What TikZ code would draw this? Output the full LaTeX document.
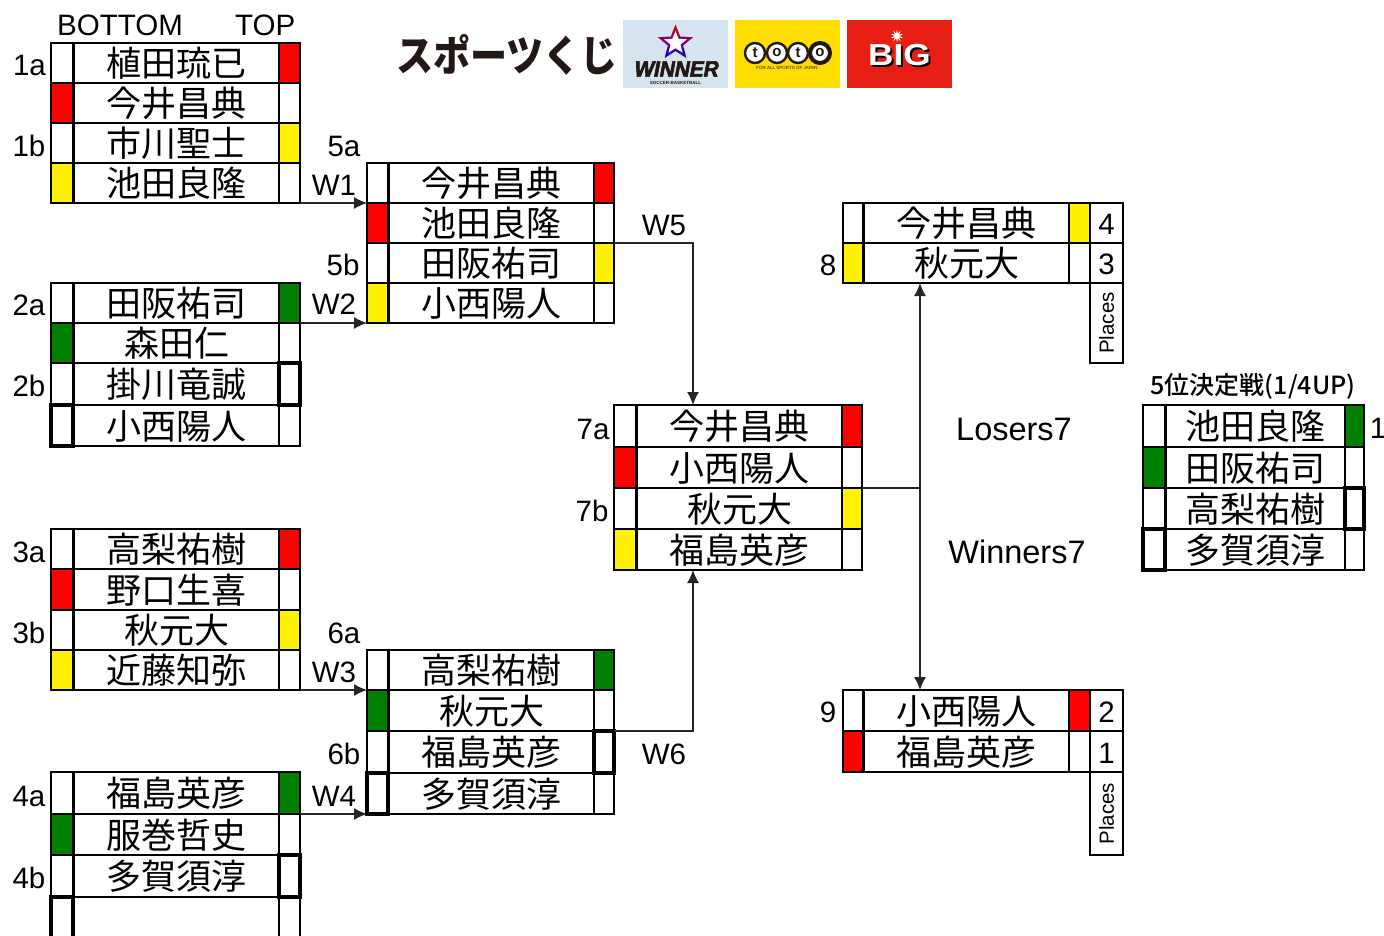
\documentclass[tikz,border=0pt]{standalone}
\usepackage{fontspec}
\setmainfont{Liberation Sans}
\newfontfamily\cjk{Noto Sans CJK JP}
\newfontfamily\cjkmid{Noto Sans CJK JP Medium}
\newfontfamily\cjkheavy{Noto Sans CJK JP Black}
\newfontfamily\wfont[FakeBold=3,FakeSlant=0.2]{Liberation Sans Bold}
\usetikzlibrary{arrows.meta,shapes.geometric}
\definecolor{gr}{HTML}{007F00}
\definecolor{logoblue}{HTML}{D5E5F0}
\definecolor{logoyel}{HTML}{FFDD00}
\definecolor{logored}{HTML}{E61E14}
\definecolor{logoink}{HTML}{231815}
\tikzset{
  cell/.style={draw=black,line width=1.6pt,inner sep=0pt,outer sep=0pt,rectangle},
  namecell/.style={cell,font=\cjk\fontsize{35}{35}\selectfont},
  lab/.style={inner sep=0pt,font=\fontsize{29.5}{30}\selectfont},
  placenum/.style={cell,lab,minimum width=33pt,text height=23pt,text depth=0pt},
  wide/.style={inner sep=0pt,font=\fontsize{32.5}{32.5}\selectfont},
  place/.style={inner sep=0pt,rotate=90,font=\fontsize{20.5}{20.5}\selectfont},
  conn/.style={draw=black!85,line width=1.2pt},
  arr/.style={conn,-{Latex[length=13pt,width=12pt]}},
  hl/.style={draw=black,line width=4.2pt},
}
% column positions
\newcommand\setx[4]{\def\xa{#1}\def\xb{#2}\def\xc{#3}\def\xd{#4}}
% id, y top, y bottom, name, left fill, right fill
\newcommand\trow[6]{%
  \pgfmathsetmacro\hh{#3-#2}\pgfmathsetmacro\ym{(#2+#3)/2}%
  \pgfmathsetmacro\wl{\xb-\xa}\pgfmathsetmacro\wn{\xc-\xb}\pgfmathsetmacro\wr{\xd-\xc}%
  \pgfmathsetmacro\cl{(\xa+\xb)/2}\pgfmathsetmacro\cn{(\xb+\xc)/2}\pgfmathsetmacro\cr{(\xc+\xd)/2}%
  \node[cell,fill=#5,minimum width=\wl pt,minimum height=\hh pt] (#1L) at (\cl,\ym) {};
  \node[namecell,minimum width=\wn pt,minimum height=\hh pt,text height=29pt,text depth=2pt] (#1N) at (\cn+0.7,\ym) {#4};
  \node[cell,fill=#6,minimum width=\wr pt,minimum height=\hh pt] (#1R) at (\cr,\ym) {};
}
\newcommand\hlcell[1]{\draw[hl] (#1.south west) rectangle (#1.north east);}
\begin{document}
\begin{tikzpicture}[x=1pt,y=-1pt]
\useasboundingbox (0,0) rectangle (1384,936);
\clip (0,0) rectangle (1384,936);

% header
\node[lab,anchor=west] (hb) at (57,25.5) {BOTTOM};
\node[lab,anchor=west] (ht) at (235,25.5) {TOP};

% round 1
\setx{51}{73}{279}{300}
\trow{a1}{43}{83}{植田琉已}{white}{red}
\trow{a2}{83}{123}{今井昌典}{red}{white}
\trow{a3}{123}{163}{市川聖士}{white}{yellow}
\trow{a4}{163}{203}{池田良隆}{yellow}{white}
\trow{b1}{283}{323}{田阪祐司}{white}{gr}
\trow{b2}{323}{363}{森田仁}{gr}{white}
\trow{b3}{363}{405}{掛川竜誠}{white}{white}
\trow{b4}{405}{446}{小西陽人}{white}{white}
\hlcell{b3R}\hlcell{b4L}
\trow{c1}{529}{569}{高梨祐樹}{white}{red}
\trow{c2}{569}{610}{野口生喜}{red}{white}
\trow{c3}{610}{650}{秋元大}{white}{yellow}
\trow{c4}{650}{690}{近藤知弥}{yellow}{white}
\trow{d1}{772}{814}{福島英彦}{white}{gr}
\trow{d2}{814}{855}{服巻哲史}{gr}{white}
\trow{d3}{855}{897}{多賀須淳}{white}{white}
\trow{d4}{897}{960}{}{white}{white}
\hlcell{d3R}\hlcell{d4L}

% round 2
\setx{367}{388}{594}{614}
\trow{e1}{163}{203}{今井昌典}{white}{red}
\trow{e2}{203}{243}{池田良隆}{red}{white}
\trow{e3}{243}{283}{田阪祐司}{white}{yellow}
\trow{e4}{283}{323}{小西陽人}{yellow}{white}
\trow{f1}{650}{690}{高梨祐樹}{white}{gr}
\trow{f2}{690}{731}{秋元大}{gr}{white}
\trow{f3}{731}{773}{福島英彦}{white}{white}
\trow{f4}{773}{814}{多賀須淳}{white}{white}
\hlcell{f3R}\hlcell{f4L}

% semi-final
\setx{614}{636}{842}{862}
\trow{g1}{405}{447}{今井昌典}{white}{red}
\trow{g2}{447}{488}{小西陽人}{red}{white}
\trow{g3}{488}{529}{秋元大}{white}{yellow}
\trow{g4}{529}{570}{福島英彦}{yellow}{white}

% finals
\setx{843}{863}{1069}{1090}
\trow{h1}{203}{243}{今井昌典}{white}{yellow}
\trow{h2}{243}{283}{秋元大}{yellow}{white}
\trow{i1}{690}{731}{小西陽人}{white}{red}
\trow{i2}{731}{772}{福島英彦}{red}{white}
\node[placenum,minimum height=40pt] (h1P) at (1106.5,223) {4};
\node[placenum,minimum height=40pt] (h2P) at (1106.5,263) {3};
\node[cell,minimum width=33pt,minimum height=80pt] (h3P) at (1106.5,323) {};
\node[place] (h3T) at (h3P.center) {Places};
\node[placenum,minimum height=41pt] (i1P) at (1106.5,710.5) {2};
\node[placenum,minimum height=41pt] (i2P) at (1106.5,751.5) {1};
\node[cell,minimum width=33pt,minimum height=83pt] (i3P) at (1106.5,813.5) {};
\node[place] (i3T) at (i3P.center) {Places};

% fifth place
\setx{1143}{1165}{1345}{1364}
\trow{j1}{405}{447}{池田良隆}{white}{gr}
\trow{j2}{447}{488}{田阪祐司}{gr}{white}
\trow{j3}{488}{529}{高梨祐樹}{white}{white}
\trow{j4}{529}{570}{多賀須淳}{white}{white}
\hlcell{j3R}\hlcell{j4L}
\node[inner sep=0pt,anchor=center,font=\cjkmid\fontsize{25}{25}\selectfont] (jt) at (1253,386) {5位決定戦(1/4UP)};
\node[lab] (j1n) at (1378,428) {1};

% side labels
\foreach \t/\px/\py in {1a/29.5/65,1b/29/146,5a/344/146,5b/343/265,2a/29/305,2b/29/386,7a/593/429,7b/592/511,3a/29/552,3b/29/633,6a/344/633,6b/344/754,4a/29/796,4b/29/878,8/828/265,9/828/712,W1/334/185,W2/334/304,W3/334/672,W4/334/796,W5/664/225,W6/664/754}
  \node[lab] (l\t) at (\px,\py) {\t};
\node[wide] (los) at (1014,429) {Losers7};
\node[wide] (win) at (1017,552) {Winners7};

% connectors
\draw[arr] (a4R.south east) -- (e2L.north west);
\draw[arr] (b2R.north east) -- (e4L.south west);
\draw[arr] (c4R.south east) -- (f2L.north west);
\draw[arr] (d2R.north east) -- (f4L.south west);
\coordinate (mtop) at (693,405);
\coordinate (mbot) at (693,570);
\draw[arr] (e3R.north east) -| (g1N.north -| mtop);
\draw[arr] (f3R.north east) -| (g4N.south -| mbot);
\coordinate (sp) at (920,488);
\draw[conn] (g3R.north east) -- (sp);
\draw[arr] (sp) -- (sp |- h2N.south);
\draw[arr] (sp) -- (sp |- i1N.north);

% logos
\node[inner sep=0pt,text=logoink,font=\cjkheavy\fontsize{36}{36}\selectfont] (lsp) at (507,55) {\scalebox{1.03}[1.18]{スポーツくじ}};

\node[fill=logoblue,minimum width=105pt,minimum height=68pt,inner sep=0pt] (lw) at (675.5,54) {};
\node[star,star points=5,star point ratio=2.3,minimum size=37pt,inner sep=0pt,top color=red!85!black,bottom color=blue!80!black,middle color=violet] (lws) at (675.5,43) {};
\node[star,star points=5,star point ratio=2.3,minimum size=24pt,inner sep=0pt,fill=white] (lwi) at (675.5,43) {};
\node[inner sep=0pt,text=logoink,font=\wfont\fontsize{26}{26}\selectfont] (lwt) at (675.5,69) {\scalebox{0.8}[0.85]{WINNER}};
\node[inner sep=0pt,text=logoink,font=\bfseries\fontsize{4.5}{4.5}\selectfont] (lwu) at (675.5,83) {SOCCER-BASKETBALL};

\node[fill=logoyel,minimum width=105pt,minimum height=68pt,inner sep=0pt] (ly) at (787.5,54) {};
\foreach \n/\c/\l/\w in {1/755/t/2.4,2/777/o/2.4,3/798/t/2.4,4/820/o/4}
  \node[circle,draw=logoink,line width=\w pt,fill=white,minimum size=20pt,inner sep=0pt,text=logoink,font=\bfseries\fontsize{15}{15}\selectfont] (ty\n) at (\c,53) {\l};
\node[inner sep=0pt,text=logoink,font=\fontsize{4.5}{5}\selectfont] (lyt) at (787,68) {FOR ALL SPORTS OF JAPAN};

\node[fill=logored,minimum width=105pt,minimum height=68pt,inner sep=0pt] (lb) at (899.5,54) {};
\node[star,star points=10,star point ratio=2.5,minimum size=13pt,inner sep=0pt,fill=white] (lbs) at (897,36) {};
\node[inner sep=0pt,text=black,font=\bfseries\fontsize{32}{32}\selectfont] (lbk) at (901.5,57) {\scalebox{1.1}[0.95]{BIG}};
\node[inner sep=0pt,text=white,font=\bfseries\fontsize{32}{32}\selectfont] (lbt) at (899.5,55.5) {\scalebox{1.1}[0.95]{BIG}};
\end{tikzpicture}
\end{document}
